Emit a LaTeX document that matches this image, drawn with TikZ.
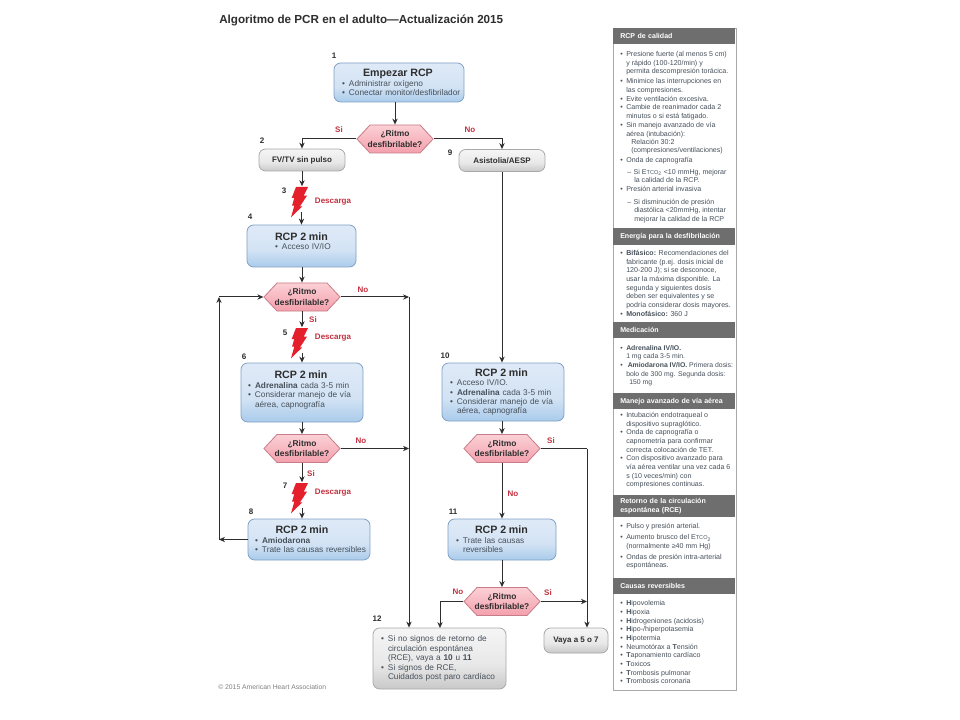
\documentclass[tikz,border=0pt]{standalone}
\usepackage{fontspec}
\setmainfont{Liberation Sans}
\usetikzlibrary{arrows.meta,shapes.symbols,calc}
\newdimen\upx \upx=0.75pt
\definecolor{ink}{HTML}{2E2E2E}
\definecolor{alert}{HTML}{C2303F}
\definecolor{bodyink}{HTML}{46505A}
\definecolor{bandgray}{HTML}{6E6E6E}
\definecolor{edgegray}{HTML}{A8A8A8}
\definecolor{bluehi}{HTML}{DFEAF7}
\definecolor{bluemid}{HTML}{D3E3F4}
\definecolor{bluelo}{HTML}{A9CBEB}
\definecolor{blueedge}{HTML}{7F9FC4}
\definecolor{grayhi}{HTML}{F5F5F5}
\definecolor{graymid}{HTML}{E8E8E8}
\definecolor{graylo}{HTML}{C8C8C8}
\definecolor{grayedge}{HTML}{A8A8A8}
\definecolor{pinkhi}{HTML}{FBD0D6}
\definecolor{pinklo}{HTML}{F3A0AC}
\definecolor{pinkedge}{HTML}{C87C88}
\definecolor{boltred}{HTML}{E3202B}
\pgfdeclareverticalshading{bluegrad}{100bp}{color(0bp)=(bluelo);color(25bp)=(bluelo);color(45bp)=(bluemid);color(75bp)=(bluehi);color(100bp)=(bluehi)}
\pgfdeclareverticalshading{graygrad}{100bp}{color(0bp)=(graylo);color(25bp)=(graylo);color(45bp)=(graymid);color(75bp)=(grayhi);color(100bp)=(grayhi)}
\pgfdeclareverticalshading{pinkgrad}{100bp}{color(0bp)=(pinklo);color(25bp)=(pinklo);color(75bp)=(pinkhi);color(100bp)=(pinkhi)}
\newcommand{\bbu}{\makebox[7\upx][l]{•}}
\newcommand{\bin}{\hspace*{7\upx}}
\newcommand{\pbu}{\makebox[6\upx][l]{•}}
\newcommand{\pin}{\hspace*{6\upx}}
\newcommand{\ttl}[2]{\makebox[#1\upx][c]{\fontsize{8}{9}\selectfont\bfseries\color{ink}#2}}
\newcommand{\etco}{E{\fontsize{4.2}{5}\selectfont TCO}\textsubscript{2}}
\newcommand{\rhythm}{\makebox[50\upx][c]{¿Ritmo}\\\makebox[50\upx][c]{desfibrilable?}}
\tikzset{
  x=0.75pt,y=-0.75pt,
  sz/.style 2 args={minimum width=#1\upx,minimum height=#2\upx,inner sep=0pt},
  boxbase/.style={draw,line width=0.6pt,rounded corners=5pt,align=left,text=bodyink,
    font=\fontsize{6.2}{7.1}\selectfont},
  bluebox/.style={boxbase,draw=blueedge,shade,shading=bluegrad},
  graybox/.style={boxbase,draw=grayedge,shade,shading=graygrad},
  pillbox/.style={graybox,align=center,text=ink,font=\fontsize{6}{7}\selectfont\bfseries},
  hexa/.style={shape=signal,signal to=east and west,signal pointer angle=94,draw=pinkedge,
    line width=0.6pt,shade,shading=pinkgrad,minimum height=28\upx,inner sep=0pt,
    align=center,text=ink,font=\fontsize{6.3}{7.8}\selectfont\bfseries},
  bolt/.style={minimum width=17\upx,minimum height=31\upx,inner sep=0pt,path picture={
    \begin{scope}[shift={(path picture bounding box.center)}]
    \fill[boltred] (-3.5,-15)--(8.5,-15)--(4.2,-6.3)--(7.5,-6.3)--(.5,4.3)--(2.8,4.3)--(-8.5,15.3)
      --(-5.2,3.7)--(-7.5,3.7)--(-5.2,-4)--(-7.8,-4)--cycle;
    \end{scope}}},
  num/.style={inner sep=0pt,text=ink,font=\fontsize{6}{7}\selectfont\bfseries},
  lab/.style={inner sep=0pt,text=alert,font=\fontsize{6}{7}\selectfont\bfseries},
  link/.style={draw=ink,line width=0.75pt},
  arrow/.style={link,-{Stealth[length=4.5pt,width=4pt]}},
  band/.style={fill=bandgray,minimum width=122\upx,inner sep=0pt,inner xsep=7\upx,anchor=north west,
    text=white,text width=108\upx,align=left,font=\fontsize{5.3}{6.8}\selectfont\bfseries},
  ptext/.style={anchor=north west,inner sep=0pt,align=left,text=bodyink,
    font=\fontsize{5.3}{6.5}\selectfont},
}
\begin{document}
\begin{tikzpicture}
\useasboundingbox (0,0) rectangle (960,720);
\fill[white] (0,0) rectangle (960,720);

\node[anchor=west,inner sep=0pt,text=ink,font=\fontsize{8.75}{10}\selectfont\bfseries] (title) at (219,20) {Algoritmo de PCR en el adulto—Actualización 2015};
\node[anchor=west,inner sep=0pt,text=gray,font=\fontsize{5.1}{7}\selectfont] (copy) at (218,687) {© 2015 American Heart Association};

% Flow boxes
\node[bluebox,sz={130}{39},text width=114\upx] (start) at (399,82.5) {\ttl{112}{Empezar RCP}\\\bbu Administrar oxígeno\\\mbox{\bbu Conectar monitor/desfibrilador}};
\node[hexa] (d1) at (395,139) {\rhythm};
\node[pillbox,sz={86}{22}] (fv) at (302,160) {FV/TV sin pulso};
\node[pillbox,sz={86}{22}] (asis) at (502,160.5) {Asistolia/AESP};
\node[bolt] (b3) at (299.5,202) {};
\node[bluebox,sz={109}{42},text width=53\upx] (r4) at (301.5,246) {\ttl{53}{RCP 2 min}\\\mbox{\bbu Acceso IV/IO}\\~};
\node[hexa] (d2) at (302,297) {\rhythm};
\node[bolt] (b5) at (299.5,343) {};
\node[bluebox,sz={122}{59},text width=108\upx] (r6) at (302,392.5) {\ttl{106}{RCP 2 min}\\\bbu\textbf{Adrenalina} cada 3-5 min\\\bbu Considerar manejo de vía\\\bin aérea, capnografía\\[-2pt]~};
\node[hexa] (d3) at (302,448.5) {\rhythm};
\node[bolt] (b7) at (299.5,498) {};
\node[bluebox,sz={122}{41},text width=108\upx] (r8) at (309,539.5) {\ttl{94}{RCP 2 min}\\\bbu\textbf{Amiodarona}\\\mbox{\bbu Trate las causas reversibles}};
\node[bluebox,sz={122}{58},text width=106\upx] (r10) at (503,392) {\ttl{103}{RCP 2 min}\\\bbu Acceso IV/IO.\\\bbu\textbf{Adrenalina} cada 3-5 min\\\bbu Considerar manejo de vía\\\bin aérea, capnografía};
\node[hexa] (d4) at (502,448.5) {\rhythm};
\node[bluebox,sz={108}{41},text width=92\upx] (r11) at (502,539.5) {\ttl{91}{RCP 2 min}\\\bbu Trate las causas\\\bin reversibles};
\node[hexa] (d5) at (502,601.5) {\rhythm};
\node[graybox,sz={133}{61},text width=117\upx] (b12) at (439.5,658.5) {\bbu Si no signos de retorno de\\\bin circulación espontánea\\\bin (RCE), vaya a \textbf{10} u \textbf{11}\\\bbu Si signos de RCE,\\\bin Cuidados post paro cardíaco};
\node[pillbox,sz={64}{25}] (vaya) at (576,640.5) {Vaya a 5 o 7};

% Free connector ends
\coordinate (L8) at (219,539.5);
\coordinate (L2) at (219,297);
\coordinate (R2) at (409,297);
\coordinate (R3) at (409,448.5);
\coordinate (R4) at (587,448.5);
\coordinate (J5) at (440,628);

% Connectors
\draw[arrow] (d1.north |- start.south) -- (d1.north);
\draw[arrow] (d1.west) -| (fv.north);
\draw[arrow] (d1.east) -| (asis.north);
\draw[arrow] (fv.south) -- (fv.south |- b3.north);
\draw[arrow,shorten <=-4pt] (r4.north |- b3.south) -- (r4.north);
\draw[arrow] (d2.north |- r4.south) -- (d2.north);
\draw[arrow] (d2.south) -- (d2.south |- b5.north);
\draw[arrow,shorten <=-4pt] (d2.south |- b5.south) -- (d2.south |- r6.north);
\draw[arrow] (d3.north |- r6.south) -- (d3.north);
\draw[arrow] (d3.south) -- (d3.south |- b7.north);
\draw[arrow,shorten <=-4pt] (d3.south |- b7.south) -- (d3.south |- r8.north);
\draw[arrow] (r8.west) -- (L8);
\draw[arrow] (L8) -- (L2);
\draw[arrow] (L2) -- (d2.west);
\draw[arrow] (d2.east) -- (R2);
\draw[arrow] (R2) -- (R2 |- b12.north);
\draw[arrow] (d3.east) -- (R3);
\draw[arrow] (asis.south) -- (asis.south |- r10.north);
\draw[arrow] (d4.north |- r10.south) -- (d4.north);
\draw[arrow] (d4.south) -- (d4.south |- r11.north);
\draw[arrow] (d5.north |- r11.south) -- (d5.north);
\draw[link] (d4.east) -- (R4);
\draw[arrow] (R4) -- (R4 |- vaya.north);
\draw[arrow] (d5.east) -- (R4 |- d5.east);
\draw[arrow] (d5.west) -| (J5);

% Step numbers
\node[num] (n1) at (334,56) {1};
\node[num] (n2) at (262,141) {2};
\node[num] (n3) at (284,191) {3};
\node[num] (n4) at (250,217) {4};
\node[num] (n5) at (285,333) {5};
\node[num] (n6) at (244,357) {6};
\node[num] (n7) at (285,486) {7};
\node[num] (n8) at (251,512) {8};
\node[num] (n9) at (450,153) {9};
\node[num] (n10) at (445,356) {10};
\node[num] (n11) at (453,512) {11};
\node[num] (n12) at (377,619) {12};

% Labels
\node[lab] (s1) at (339,130) {Si};
\node[lab] (o1) at (470,130) {No};
\node[lab] (dc3) at (333,202) {Descarga};
\node[lab] (o2) at (363,290) {No};
\node[lab] (s2) at (313,320) {Si};
\node[lab] (dc5) at (333,338) {Descarga};
\node[lab] (o3) at (361,441) {No};
\node[lab] (s3) at (311,474) {Si};
\node[lab] (dc7) at (333,493) {Descarga};
\node[lab] (s4) at (551,441) {Si};
\node[lab] (o4) at (513,494) {No};
\node[lab] (o5) at (458,592) {No};
\node[lab] (s5) at (548,593) {Si};

% Side panel
\node[draw=edgegray,fill=white,line width=0.6pt,anchor=north west,minimum width=123\upx,minimum height=662\upx,inner sep=0pt] (panel) at (612.5,28) {};
\node[band,minimum height=16\upx] (h1) at (613,28) {RCP de calidad};
\node[band,minimum height=17\upx] (h2) at (613,228) {Energía para la desfibrilación};
\node[band,minimum height=16\upx] (h3) at (613,322) {Medicación};
\node[band,minimum height=16\upx] (h4) at (613,393) {Manejo avanzado de vía aérea};
\node[band,minimum height=22\upx] (h5) at (613,495) {Retorno de la circulación\\espontánea (RCE)};
\node[band,minimum height=16\upx] (h6) at (613,578) {Causas reversibles};

\node[ptext] (t1) at (620,51) {\pbu Presione fuerte (al menos 5 cm)\\\pin y rápido (100-120/min) y\\\pin permita descompresión torácica.\\[1pt]%
\pbu Minimice las interrupciones en\\\pin las compresiones.\\\pbu Evite ventilación excesiva.\\\pbu Cambie de reanimador cada 2\\\pin minutos o si está fatigado.\\\pbu Sin manejo avanzado de vía\\[0.6pt]%
\pin aérea (intubación):\\[-0.8pt]\hspace*{11\upx}Relación 30:2\\\hspace*{11\upx}(compresiones/ventilaciones)\\[0.8pt]%
\pbu Onda de capnografía\\[2.3pt]\hspace*{7\upx}–\hspace*{2.5\upx}Si \etco{} <10 mmHg, mejorar\\\hspace*{14\upx}la calidad de la RCP.\\\pbu Presión arterial invasiva\\[3pt]%
\hspace*{7\upx}–\hspace*{2.5\upx}Si disminución de presión\\\hspace*{14\upx}diastólica <20mmHg, intentar\\\hspace*{14\upx}mejorar la calidad de la RCP};

\node[ptext] (t2) at (620,250) {\pbu\textbf{Bifásico:} Recomendaciones del\\\pin fabricante (p.ej. dosis inicial de\\\pin 120-200 J); si se desconoce,\\\pin usar la máxima disponible. La\\\pin segunda y siguientes dosis\\\pin deben ser equivalentes y se\\\pin podría considerar dosis mayores.\\\pbu\textbf{Monofásico:} 360 J};

\node[ptext,font=\fontsize{5.15}{6.5}\selectfont] (t3) at (620,345) {\pbu\textbf{Adrenalina IV/IO.}\\\pin 1 mg cada 3-5 min.\\\pbu\hspace*{1.5\upx}\textbf{Amiodarona IV/IO.} Primera dosis:\\\pin bolo de 300 mg. Segunda dosis:\\\pin\hspace*{3\upx}150 mg};

\node[ptext] (t4) at (620,412) {\pbu Intubación endotraqueal o\\\pin dispositivo supraglótico.\\\pbu Onda de capnografía o\\\pin capnometría para confirmar\\\pin correcta colocación de TET.\\\pbu Con dispositivo avanzado para\\\pin vía aérea ventilar una vez cada 6\\\pin s (10 veces/min) con\\\pin compresiones continuas.};

\node[ptext] (t5) at (620,523.5) {\pbu Pulso y presión arterial.\\[1.7pt]\pbu Aumento brusco del \etco\\\pin (normalmente ≥40 mm Hg)\\[1.5pt]\pbu Ondas de presión intra-arterial\\\pin espontáneas.};

\node[ptext] (t6) at (620,600.5) {\pbu\textbf{H}ipovolemia\\\pbu\textbf{H}ipoxia\\\pbu\textbf{H}idrogeniones (acidosis)\\\pbu\textbf{H}ipo-/hiperpotasemia\\\pbu\textbf{H}ipotermia\\\pbu Neumotórax a \textbf{T}ensión\\\pbu\textbf{T}aponamiento cardíaco\\\pbu\textbf{T}oxicos\\\pbu\textbf{T}rombosis pulmonar\\\pbu\textbf{T}rombosis coronaria};
\end{tikzpicture}
\end{document}
